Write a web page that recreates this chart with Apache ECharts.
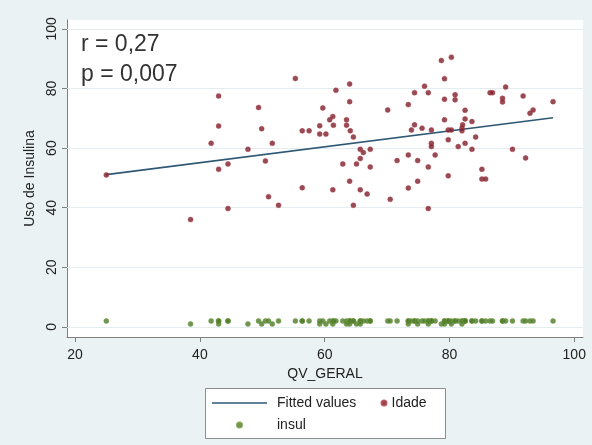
<!DOCTYPE html>
<html>
<head>
<meta charset="utf-8">
<script src="https://cdn.jsdelivr.net/npm/echarts@6/dist/echarts.min.js"></script>
<style>
html,body{margin:0;padding:0;background:#eaf2f3;}
#chart{width:592px;height:445px;}
</style>
</head>
<body>
<div id="chart"></div>
<script>
// QV_GERAL (x) for each patient
const qvGeral = [25,38.5,41.8,43.0,43.0,43.0,44.5,44.5,47.7,49.4,49.9,50.5,51.0,51.6,52.6,55.3,56.4,56.4,57.5,59.2,
  59.2,59.7,60.2,60.8,61.3,61.3,61.4,61.8,62.9,63.5,63.5,64.0,64.0,64.0,64.1,64.6,64.6,65.1,65.7,65.7,
  65.7,66.2,66.8,67.3,67.3,70.1,70.5,71.6,73.4,73.4,73.4,73.9,74.4,74.4,74.9,74.9,75.6,76.0,76.6,76.6,
  76.6,77.1,77.1,77.1,77.7,78.7,79.2,79.2,79.2,79.8,79.8,79.8,80.3,80.3,80.9,80.9,81.4,82.0,82.0,82.1,
  82.5,82.5,82.5,83.6,83.6,84.2,85.2,85.2,85.8,86.5,86.9,88.5,88.5,89.0,90.1,91.8,92.2,92.9,93.4,96.6];
// Idade
const idade = [51,36,61.6,77.5,67.4,52.9,54.7,39.7,59.6,73.6,66.5,55.7,43.7,61.6,40.8,83.4,65.8,46.7,65.8,67.5,
  64.7,73.5,64.7,69.5,70.6,46,67.7,79.4,54.7,69.5,67.7,81.5,75.6,48.9,65.8,63.7,40.8,54.7,59.6,56.5,
  46,58.5,44.6,59.6,53.7,72.8,42.8,55.8,74.6,57.7,46.6,66.1,78.6,67.8,55.8,48.9,66.7,80.8,78.6,53.7,
  39.7,66.1,61.6,60.5,57.7,89.4,83.3,76.4,69.5,66.1,62.8,50.7,90.5,66.1,77.9,76.2,60.5,66.7,65.8,67.8,
  72.7,69.8,61.6,68.9,59.6,63.7,52.9,49.6,49.6,78.6,78.6,76.7,75.5,80.5,59.6,77.5,56.7,71.7,72.8,75.6];
// insul
const insul = [2,1,2,2,1,2,2,2,1,2,1,2,2,1,2,2,2,2,2,1,
  2,2,1,2,2,1,2,2,2,2,1,2,2,1,2,2,2,1,2,2,
  1,2,2,2,2,2,2,2,2,1,2,2,2,2,2,1,2,2,2,1,
  2,2,2,2,2,1,2,2,1,2,2,2,2,1,2,2,2,2,1,2,
  2,2,2,2,2,2,2,2,2,2,2,2,2,2,2,2,2,2,2,2];
// Fitted values (endpoints of the regression line)
const fittedX = [25, 96.6];
const fittedY = [51.1, 70.2];
// Axis ticks
const xTicks = [20, 40, 60, 80, 100];
const yTicks = [0, 20, 40, 60, 80, 100];
const annotations = ['r = 0,27', 'p = 0,007'];

const FONT = "'Liberation Sans', Arial, sans-serif";
const chart = echarts.init(document.getElementById('chart'));
const axisColor = '#7f7f7f';

chart.setOption({
  backgroundColor: '#eaf2f3',
  animation: false,
  textStyle: { fontFamily: FONT },
  grid: { left: 67, right: 9, top: 20, bottom: 108, show: true, backgroundColor: '#ffffff', borderWidth: 0 },
  xAxis: {
    type: 'value', min: 18.7, max: 101.4,
    name: 'QV_GERAL', nameLocation: 'middle', nameGap: 28,
    nameTextStyle: { fontSize: 14, color: '#222', fontFamily: FONT },
    axisLine: { show: true, onZero: false, lineStyle: { color: axisColor, width: 1 } },
    axisTick: { show: true, length: 5, customValues: xTicks, lineStyle: { color: axisColor } },
    axisLabel: { customValues: xTicks, margin: 11, fontSize: 14, color: '#222', fontFamily: FONT },
    splitLine: { show: false }
  },
  yAxis: {
    type: 'value', min: -3.4, max: 103,
    name: 'Uso de Insulina', nameLocation: 'middle', nameGap: 29,
    nameTextStyle: { fontSize: 14, color: '#222', fontFamily: FONT },
    axisLine: { show: true, onZero: false, lineStyle: { color: axisColor, width: 1 } },
    axisTick: { show: true, length: 5, customValues: yTicks, lineStyle: { color: axisColor } },
    axisLabel: { customValues: yTicks, rotate: 90, margin: 8, fontSize: 14, color: '#222', fontFamily: FONT },
    splitLine: { show: false }
  },
  legend: [
    {
      data: [
        { name: 'Fitted values', icon: 'path://M0,0h55v1.6h-55z' },
        { name: 'insul', icon: 'circle' }
      ],
      orient: 'vertical', left: 212, top: 395, padding: 0,
      itemWidth: 55, itemHeight: 5, itemGap: 6,
      textStyle: { fontSize: 14, color: '#222', fontFamily: FONT, lineHeight: 16, padding: [0,0,0,5] },
      selectedMode: false
    },
    {
      data: [{ name: 'Idade', icon: 'circle' }], orient: 'vertical', left: 380.5, top: 395, padding: 0,
      itemWidth: 5, itemHeight: 5,
      textStyle: { fontSize: 14, color: '#222', fontFamily: FONT, lineHeight: 16 },
      selectedMode: false
    }
  ],
  graphic: [
    { type: 'rect', z: 0, shape: { x: 205.5, y: 388.5, width: 240, height: 50 },
      style: { fill: '#ffffff', stroke: '#8c8c8c', lineWidth: 1 } },
    { type: 'text', z: 10, x: 81, y: 45, style: { text: annotations[0], font: "23px 'Liberation Sans', Arial, sans-serif", fill: '#333', verticalAlign: 'middle' } },
    { type: 'text', z: 10, x: 81, y: 75, style: { text: annotations[1], font: "23px 'Liberation Sans', Arial, sans-serif", fill: '#333', verticalAlign: 'middle' } }
  ],
  series: [
    {
      name: 'grid', type: 'line', data: [], z: 1, silent: true,
      markLine: {
        silent: true, symbol: 'none', animation: false, z: 1, zlevel: 0,
        label: { show: false },
        lineStyle: { color: '#e3ecee', type: 'solid', width: 1 },
        data: yTicks.map(v => ({ yAxis: v }))
      }
    },
    {
      name: 'Fitted values', type: 'line', z: 3,
      data: fittedX.map((x, i) => [x, fittedY[i]]),
      symbol: 'none', showSymbol: false,
      lineStyle: { color: '#2e5874', width: 1.6 },
      itemStyle: { color: '#2e5874' }
    },
    {
      name: 'Idade', type: 'scatter', z: 4,
      data: qvGeral.map((x, i) => [x, idade[i]]),
      symbol: 'circle', symbolSize: 5,
      itemStyle: { color: '#7a1f2b', borderColor: '#b0404a', borderWidth: 0.6 }
    },
    {
      name: 'insul', type: 'scatter', z: 4,
      data: qvGeral.map((x, i) => [x, insul[i]]),
      symbol: 'circle', symbolSize: 5,
      itemStyle: { color: '#4f7a2a', borderColor: '#6d9a3a', borderWidth: 0.6 }
    }
  ]
});
</script>
</body>
</html>
